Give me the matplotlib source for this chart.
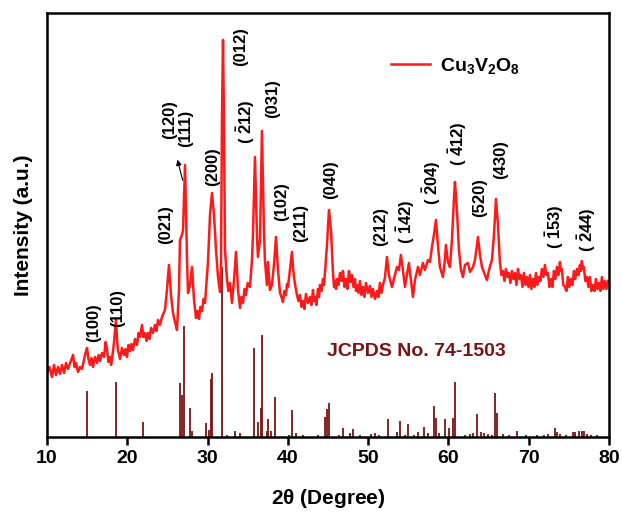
import numpy as np
import matplotlib
matplotlib.use('Agg')
import matplotlib.pyplot as plt

plt.rcParams['font.family'] = ['Liberation Sans', 'DejaVu Sans']
plt.rcParams['font.weight'] = 'bold'
plt.rcParams['mathtext.fontset'] = 'custom'
plt.rcParams['mathtext.rm'] = 'Liberation Sans:bold'
plt.rcParams['mathtext.it'] = 'Liberation Sans:bold'
plt.rcParams['mathtext.bf'] = 'Liberation Sans:bold'
plt.rcParams['mathtext.default'] = 'rm'

# measured pattern of Cu3V2O8 (2theta, intensity in arbitrary units)
two_theta = [
    10.0, 10.3, 10.62, 10.87, 11.12, 11.37, 11.62, 11.87, 12.12, 12.37,
    12.62, 12.93, 13.24, 13.43, 13.61, 13.86, 14.11, 14.36, 14.61, 14.8,
    14.98, 15.16, 15.35, 15.54, 15.73, 15.98, 16.23, 16.42, 16.6, 16.85,
    17.1, 17.3, 17.47, 17.65, 17.85, 17.98, 18.1, 18.35, 18.59, 18.72,
    18.84, 19.0, 19.09, 19.34, 19.59, 19.78, 19.96, 20.15, 20.34, 20.52,
    20.71, 20.96, 21.21, 21.4, 21.58, 21.83, 22.0, 22.2, 22.4, 22.58,
    22.77, 22.95, 23.2, 23.45, 23.63, 23.82, 24.07, 24.32,
    24.69, 24.94, 25.19, 25.44, 25.69, 25.94, 26.19, 26.44, 26.56, 26.81,
    26.94, 27.19, 27.44, 27.56, 27.81, 28.06, 28.31, 28.56, 28.75, 28.93,
    29.1, 29.3, 29.5, 29.68, 29.93, 30.05, 30.3, 30.55, 30.8, 31.05,
    31.3, 31.54, 31.67, 31.79, 31.92, 32.04, 32.17, 32.42, 32.6, 32.79,
    33.04, 33.29, 33.54, 33.79, 34.04, 34.2, 34.41, 34.6, 34.78, 35.0,
    35.28, 35.53, 35.65, 35.9, 36.15, 36.27, 36.53, 36.77, 37.02, 37.14,
    37.39, 37.52, 37.77, 38.01, 38.27, 38.52, 38.77,
    39.02, 39.2, 39.39, 39.57, 39.76, 39.9, 40.01, 40.26, 40.51, 40.64,
    40.76, 40.95, 41.13, 41.32, 41.51, 41.7, 41.88, 42.06, 42.25, 42.5,
    42.75, 42.94, 43.13, 43.25, 43.37, 43.56, 43.75, 43.88, 44.0, 44.18,
    44.37, 44.5, 44.62, 44.87, 45.12, 45.37, 45.62, 45.75, 45.87, 46.0,
    46.11, 46.3, 46.49, 46.68, 46.86, 47.05, 47.24, 47.42, 47.61, 47.8,
    47.98, 48.17, 48.36, 48.49, 48.61, 48.8, 48.98, 49.17, 49.35, 49.54,
    49.73, 49.98, 50.22, 50.41, 50.6, 50.85, 51.1, 51.28, 51.47, 51.65,
    51.84, 52.09, 52.34,
    52.59, 52.96, 53.34, 53.59, 53.84, 54.08, 54.33, 54.58, 54.83, 55.08,
    55.33, 55.58, 55.83, 56.21, 56.45, 56.82, 57.07, 57.45, 57.7, 57.95,
    58.19, 58.44, 58.69, 58.94, 59.31, 59.56, 59.69, 59.94, 60.19, 60.44,
    60.68, 60.81, 61.06, 61.31, 61.56, 61.81, 62.06, 62.44, 62.69, 63.06,
    63.31, 63.55, 63.68, 63.93, 64.18, 64.55, 64.8, 65.05, 65.42, 65.67,
    65.92, 66.17,
    66.41, 66.6, 66.79, 66.98, 67.16, 67.35, 67.53, 67.72, 67.91, 68.1,
    68.28, 68.47, 68.66, 68.85, 69.03, 69.22, 69.4, 69.6, 69.78, 69.97,
    70.15, 70.33, 70.52, 70.7, 70.9, 71.08, 71.27, 71.45, 71.64, 71.83,
    72.02, 72.2, 72.39, 72.58, 72.76, 72.95, 73.14, 73.33, 73.51, 73.7,
    73.89, 74.0, 74.13, 74.3, 74.51, 74.7, 74.88, 75.06, 75.25, 75.45,
    75.63, 75.8, 76.0, 76.2, 76.38, 76.5, 76.62, 76.75, 76.87, 77.05,
    77.25, 77.44, 77.62, 77.8, 77.99, 78.18, 78.37, 78.55, 78.74, 78.93,
    79.12, 79.3, 79.49, 79.68, 79.86]
intensity = [
    64, 70, 60, 72, 62, 70, 63, 72, 64, 74,
    68, 75, 82, 70, 74, 65, 70, 68, 77, 84,
    89, 78, 72, 79, 70, 80, 74, 82, 76, 84,
    80, 95, 88, 75, 80, 72, 78, 95, 117, 98,
    86, 82, 78, 89, 82, 88, 80, 92, 86, 93,
    87, 98, 92, 104, 100, 112, 100, 104, 96, 104,
    98, 109, 104, 112, 106, 117, 112, 120,
    127, 147, 172, 142, 124, 115, 107, 147, 197, 202,
    207, 272, 177, 144, 152, 170, 137, 119, 126, 118,
    130, 126, 138, 134, 162, 175, 222, 244, 222, 187,
    160, 145, 167, 317, 397, 317, 187, 157, 146, 154,
    134, 157, 185, 147, 129, 140, 134, 148, 142, 154,
    150, 177, 202, 280, 202, 180, 197, 306, 207, 177,
    152, 175, 147, 152, 172, 200, 167,
    144, 140, 135, 146, 142, 153, 150, 167, 185, 170,
    160, 150, 142, 136, 142, 130, 136, 128, 143, 134,
    140, 132, 147, 136, 140, 132, 148, 140, 152, 146,
    158, 152, 164, 192, 227, 207, 164, 150, 156, 148,
    158, 152, 164, 156, 166, 150, 158, 148, 166, 155,
    162, 150, 158, 146, 152, 144, 156, 142, 150, 140,
    154, 144, 151, 140, 148, 138, 146, 140, 154, 144,
    152, 159, 180,
    162, 150, 162, 170, 167, 182, 167, 150, 162, 174,
    157, 140, 157, 170, 162, 174, 167, 177, 175, 190,
    202, 217, 192, 170, 160, 177, 192, 175, 170, 197,
    237, 255, 227, 187, 167, 160, 172, 174, 165, 170,
    177, 192, 200, 182, 170, 162, 157, 167, 177, 202,
    238, 212,
    175, 162, 166, 156, 168, 160, 164, 154, 166, 158,
    164, 152, 168, 158, 162, 150, 164, 152, 160, 150,
    162, 148, 158, 150, 164, 152, 160, 156, 168, 160,
    172, 162, 164, 150, 158, 150, 166, 158, 170, 162,
    175, 166, 168, 152, 150, 146, 160, 150, 158, 152,
    166, 158, 168, 162, 172, 166, 176, 168, 170, 156,
    160, 150, 160, 146, 152, 146, 158, 148, 154, 146,
    160, 148, 156, 148, 156]

# JCPDS No. 74-1503 reference lines
ref_pos = [14.94, 18.6, 21.9, 26.56, 26.77, 27.1, 27.8, 28.0, 29.76, 30.17,
           30.38, 30.6, 31.83, 32.45, 33.4, 34.0, 35.8, 36.3, 36.6, 36.77,
           37.36, 37.56, 37.9, 38.43, 40.1, 40.47, 40.97, 41.9, 43.8, 44.6,
           44.9, 45.16, 46.4, 46.9, 47.7, 48.07, 48.98, 50.4, 50.85, 51.4,
           52.43, 53.55, 53.96, 54.58, 55.0, 55.7, 56.24, 56.9, 57.4, 58.2,
           58.5, 58.8, 59.6, 60.1, 60.52, 60.77, 62.1, 62.7, 63.1, 63.6,
           64.1, 64.46, 64.96, 65.4, 65.83, 66.0, 66.8, 67.57, 68.6, 69.7,
           71.0, 71.9, 72.4, 73.3, 73.55, 73.9, 74.7, 75.5, 75.8, 76.3,
           76.6, 76.9, 77.2, 77.8, 78.45]
ref_int = [46, 55, 15, 54, 42, 111, 29, 6, 14, 7,
           58, 64, 170, 2, 6, 4, 89, 15, 29, 102,
           6, 18, 6, 40, 2, 27, 4, 2, 2, 20,
           28, 34, 2, 9, 4, 8, 2, 3, 4, 2,
           18, 5, 16, 2, 13, 2, 5, 10, 4, 31,
           19, 4, 18, 9, 19, 55, 2, 3, 4, 23,
           5, 4, 3, 2, 44, 24, 3, 2, 6, 2,
           2, 2, 3, 9, 5, 3, 2, 5, 5, 6,
           6, 6, 3, 2, 2]

# peak labels: text, 2theta, height
hkl_labels = ['(100)', '(110)', '(021)', '(120)', '(111)', '(200)', '(012)',
              r'( $\bar{2}$12)', '(031)', '(102)', '(211)', '(040)', '(212)',
              r'( $\bar{1}$42)', r'( $\bar{2}$04)', r'( $\bar{4}$12)', '(520)',
              '(430)', r'( $\bar{1}$53)', r'( $\bar{2}$44)']
hkl_x = [15.85, 18.85, 24.82, 25.32, 27.31, 30.67, 34.16,
         34.79, 38.12, 39.27, 41.63, 45.37, 51.59,
         54.71, 57.95, 61.19, 63.92, 66.54, 73.26, 77.25]
hkl_y = [114, 129, 212, 317, 309, 270, 390,
         315, 338, 235, 214, 257, 210,
         215, 254, 293, 239, 277, 210, 207]

fig = plt.figure(figsize=(6.22, 5.15), dpi=100)
ax = fig.add_axes([0.0756, 0.1515, 0.9035, 0.8233])

ax.vlines(ref_pos, 0, ref_int, color='#7a1414', linewidth=1.3)
line, = ax.plot(two_theta, intensity, color='#ff1a1a', linewidth=1.8)

for t, x, y in zip(hkl_labels, hkl_x, hkl_y):
    ax.text(x, y, t, rotation=90, ha='center', va='center',
            fontsize=12, fontweight='bold')

ax.annotate('', xy=(26.16, 280), xytext=(26.98, 254),
            arrowprops=dict(arrowstyle='-|>', color='black', lw=0.8,
                            mutation_scale=8))

ax.text(56.0, 85, 'JCPDS No. 74-1503', color='#7a1414', fontsize=14,
        fontweight='bold', ha='center', va='center')

ax.legend([line], [r'Cu$_3$V$_2$O$_8$'], loc='center left',
          bbox_to_anchor=(0.595, 0.875), frameon=False, fontsize=14,
          handlelength=2.0, handletextpad=0.5, borderpad=0)

ax.set_xlim(10, 80)
ax.set_ylim(0, 424)
ax.set_xticks(np.arange(10, 81, 10))
ax.set_yticks([])
ax.tick_params(axis='x', direction='out', length=6, width=1.8, labelsize=14)
for s in ax.spines.values():
    s.set_linewidth(1.8)
ax.set_xlabel(r'2$\theta$ (Degree)', fontsize=15, fontweight='bold', labelpad=14)
ax.set_ylabel('Intensity (a.u.)', fontsize=15, fontweight='bold', labelpad=10)

fig.savefig('out.png', dpi=100)
